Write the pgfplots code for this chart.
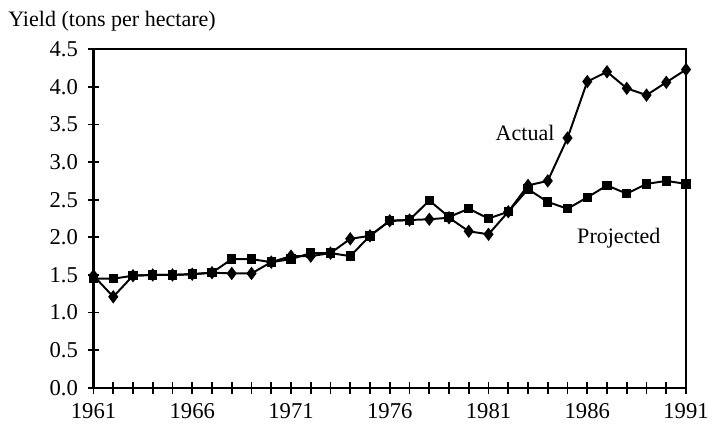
\documentclass[border=0pt]{standalone}
\usepackage{pgfplots}
\pgfplotsset{compat=1.18}
\usepackage{fontspec}
\setmainfont{Liberation Serif}
\usetikzlibrary{calc}
\pgfplotstableread{
year actual projected
1961 1.49 1.45
1962 1.21 1.45
1963 1.49 1.49
1964 1.50 1.50
1965 1.50 1.50
1966 1.51 1.51
1967 1.53 1.53
1968 1.52 1.71
1969 1.52 1.71
1970 1.67 1.67
1971 1.75 1.71
1972 1.75 1.79
1973 1.79 1.79
1974 1.98 1.75
1975 2.02 2.02
1976 2.22 2.22
1977 2.23 2.23
1978 2.24 2.49
1979 2.26 2.27
1980 2.08 2.38
1981 2.04 2.25
1982 2.34 2.34
1983 2.69 2.64
1984 2.75 2.47
1985 3.32 2.38
1986 4.07 2.53
1987 4.20 2.69
1988 3.98 2.58
1989 3.89 2.71
1990 4.06 2.75
1991 4.23 2.71
}\datatable
\begin{document}
\fontsize{11.2}{13}\selectfont
\begin{tikzpicture}
\begin{axis}[
  name=ax,
  scale only axis,
  width=301pt, height=172pt,
  xmin=1961, xmax=1991, ymin=0, ymax=4.5,
  xtick={1961,1966,...,1991},
  minor xtick={1961,...,1991},
  ytick={0,0.5,...,4.5},
  xtick pos=left, ytick pos=left,
  tick align=center,
  major tick length=6pt, minor tick length=6pt,
  axis line style={line width=1.3pt},
  tick style={black, line width=0.9pt},
  minor tick style={black, line width=0.9pt},
  /pgf/number format/assume math mode=true,
  /pgf/number format/.cd, fixed, fixed zerofill, precision=1, 1000 sep={},
  /pgfplots/.cd,
  xticklabel={\pgfmathprintnumber[fixed,precision=0,1000 sep={}]{\tick}},
  tick label style={font=\fontsize{11.5}{12}\selectfont},
  yticklabel style={xshift=-1pt},
  xticklabel style={yshift=-1pt},
  clip=false,
]
\addplot[black, line width=1pt, mark=diamond*, mark size=2.6pt, mark options={solid, fill=black}] table[x=year, y=actual] {\datatable};
\addplot[black, line width=1pt, mark=square*, mark size=1.9pt, mark options={solid, fill=black}] table[x=year, y=projected] {\datatable};
\node at (axis cs:1982.85,3.39) {Actual};
\node at (axis cs:1987.6,1.99) {Projected};
\end{axis}
\node[anchor=west, inner sep=0pt] at ($(ax.north west)+(-43.5pt,14pt)$) {Yield (tons per hectare)};
\path[use as bounding box] ($(ax.south west)+(-47.5pt,-17.5pt)$) rectangle ($(ax.north east)+(9.5pt,25pt)$);
\end{tikzpicture}
\end{document}
